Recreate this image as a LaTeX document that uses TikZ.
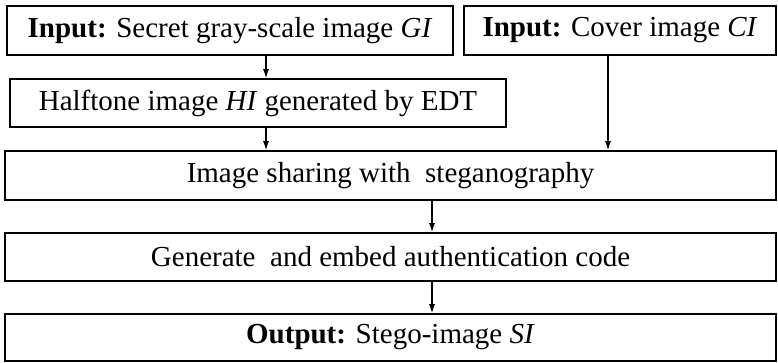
\documentclass[tikz,border=0pt]{standalone}
\usepackage{fontspec}
\setmainfont{Liberation Serif}
\usetikzlibrary{arrows.meta}
\begin{document}
\begin{tikzpicture}[x=1pt,y=-1pt,
  box/.style={draw=black,line width=1.6pt,inner sep=0pt,anchor=center,
    font=\fontsize{29}{34}\selectfont,text=black},
  arr/.style={line width=1.2pt,-{Latex[length=9pt,width=6pt]}}]
\useasboundingbox (0,0) rectangle (778,363);
\node[box,minimum width=446pt,minimum height=49pt] (gi) at (230,30.5)
  {\textbf{Input:} Secret gray-scale image \textit{GI}};
\node[box,minimum width=312pt,minimum height=49pt] (ci) at (620,30.5)
  {\textbf{Input:} Cover image \textit{CI}};
\node[box,minimum width=496pt,minimum height=48pt] (hi) at (258,103)
  {Halftone image \textit{HI} generated by EDT};
\node[box,minimum width=771pt,minimum height=49pt] (sh) at (390.5,175.5)
  {Image sharing with\ \ steganography};
\node[box,minimum width=771pt,minimum height=48pt] (ge) at (390.5,257)
  {Generate\ \ and embed authentication code};
\node[box,minimum width=771pt,minimum height=47pt] (out) at (390.5,337.5)
  {\textbf{Output:} Stego-image \textit{SI}};
\coordinate (xa) at (266,0);
\coordinate (xb) at (608,0);
\coordinate (xc) at (432,0);
\draw[arr] (gi.south -| xa) -- (hi.north -| xa);
\draw[arr] (hi.south -| xa) -- (sh.north -| xa);
\draw[arr] (ci.south -| xb) -- (sh.north -| xb);
\draw[arr] (sh.south -| xc) -- (ge.north -| xc);
\draw[arr] (ge.south -| xc) -- (out.north -| xc);
\end{tikzpicture}
\end{document}
